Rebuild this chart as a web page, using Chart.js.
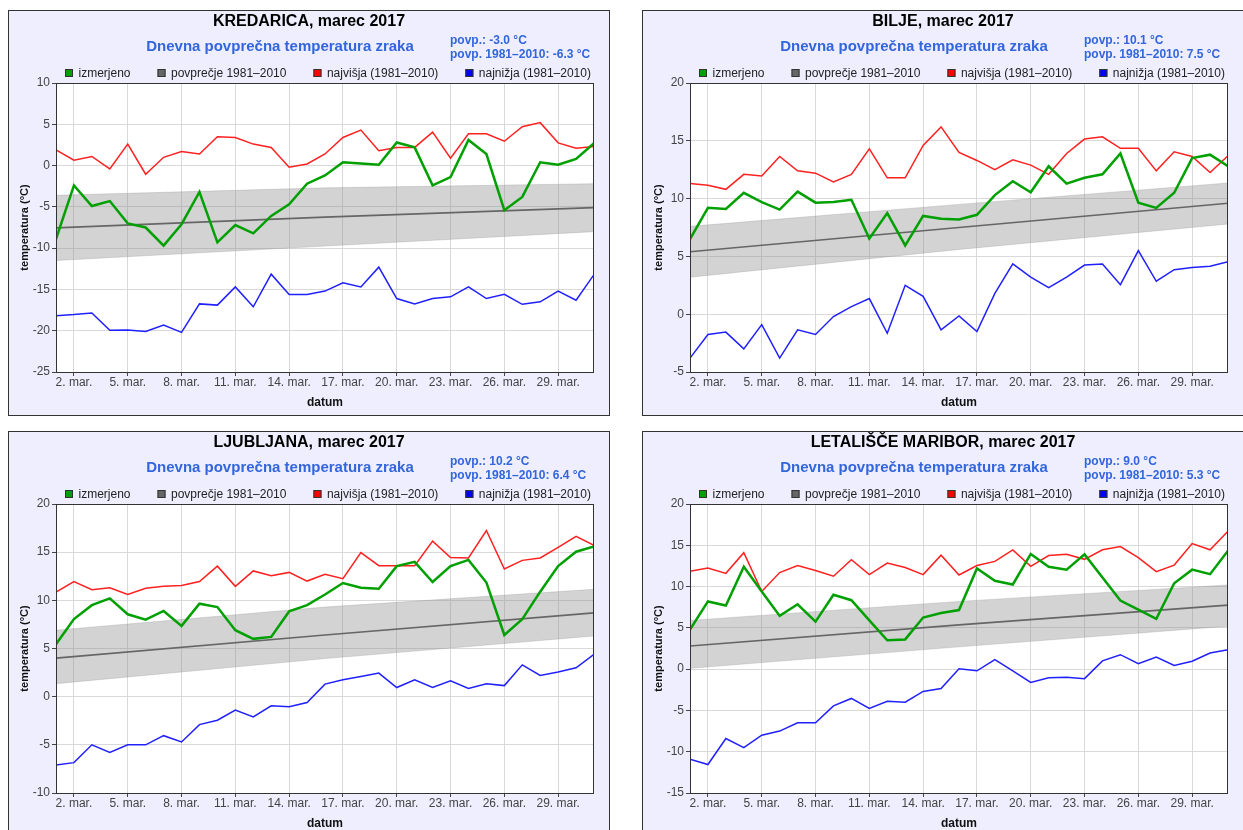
<!DOCTYPE html>
<html>
<head>
<meta charset="utf-8">
<script src="https://cdn.jsdelivr.net/npm/chart.js@4.4.1/dist/chart.umd.min.js"></script>
<style>
  body { margin: 0; background: #fff; }
  .panel { position: absolute; width: 600px; height: 404px; border: 1px solid #333; background: #eeeeff; }
  canvas { display: block; }
</style>
</head>
<body>
<div class="panel" style="left:8px;top:10px"><canvas id="kredarica" width="600" height="404"></canvas></div>
<div class="panel" style="left:642px;top:10px"><canvas id="bilje" width="600" height="404"></canvas></div>
<div class="panel" style="left:8px;top:431px"><canvas id="ljubljana" width="600" height="404"></canvas></div>
<div class="panel" style="left:642px;top:431px"><canvas id="maribor" width="600" height="404"></canvas></div>
<script>
// dnevi v marcu
const days = [1, 2, 3, 4, 5, 6, 7, 8, 9, 10, 11, 12, 13, 14, 15, 16, 17, 18, 19, 20, 21, 22, 23, 24, 25, 26, 27, 28, 29, 30, 31];
const climDays = [1, 16, 31];
const xTickDays = [2, 5, 8, 11, 14, 17, 20, 23, 26, 29];
const legendLabels = ['izmerjeno', 'povprečje 1981–2010', 'najvišja (1981–2010)', 'najnižja (1981–2010)'];

// KREDARICA
const kredaricaMeasured = [-8.9, -2.4, -4.9, -4.3, -7.0, -7.5, -9.7, -7.1, -3.2, -9.3, -7.2, -8.2, -6.1, -4.7, -2.2, -1.2, 0.4, 0.25, 0.1, 2.8, 2.2, -2.4, -1.4, 3.1, 1.4, -5.4, -3.8, 0.4, 0.1, 0.8, 2.7];
const kredaricaMax = [1.9, 0.65, 1.1, -0.4, 2.6, -1.05, 1.0, 1.7, 1.4, 3.5, 3.4, 2.6, 2.2, -0.2, 0.2, 1.4, 3.4, 4.3, 1.8, 2.2, 2.2, 4.05, 0.9, 3.85, 3.85, 2.95, 4.7, 5.2, 2.75, 2.1, 2.3];
const kredaricaMin = [-18.2, -18.05, -17.85, -19.95, -19.9, -20.1, -19.3, -20.2, -16.75, -16.9, -14.7, -17.1, -13.15, -15.6, -15.6, -15.2, -14.2, -14.7, -12.3, -16.1, -16.75, -16.1, -15.9, -14.7, -16.1, -15.6, -16.8, -16.5, -15.2, -16.3, -13.2];
const kredaricaAvg = [-7.55, -6.25, -5.1];
const kredaricaBandHigh = [-3.6, -2.7, -2.2];
const kredaricaBandLow = [-11.5, -9.75, -8.0];

// BILJE
const biljeMeasured = [6.5, 9.2, 9.1, 10.5, 9.7, 9.05, 10.6, 9.65, 9.7, 9.9, 6.55, 8.75, 5.95, 8.5, 8.25, 8.2, 8.6, 10.3, 11.5, 10.55, 12.8, 11.3, 11.8, 12.1, 13.9, 9.65, 9.2, 10.5, 13.5, 13.8, 12.8];
const biljeMax = [11.3, 11.15, 10.8, 12.1, 11.95, 13.65, 12.4, 12.2, 11.45, 12.1, 14.3, 11.8, 11.8, 14.6, 16.2, 14.0, 13.3, 12.5, 13.35, 12.9, 12.1, 13.9, 15.15, 15.35, 14.35, 14.35, 12.4, 14.05, 13.65, 12.25, 13.7];
const biljeMin = [-3.8, -1.75, -1.55, -3.0, -0.9, -3.8, -1.35, -1.75, -0.2, 0.65, 1.35, -1.65, 2.5, 1.55, -1.35, -0.15, -1.5, 1.8, 4.35, 3.2, 2.3, 3.2, 4.25, 4.35, 2.55, 5.5, 2.85, 3.85, 4.05, 4.15, 4.55];
const biljeAvg = [5.4, 7.5, 9.6];
const biljeBandHigh = [7.6, 9.5, 11.35];
const biljeBandLow = [3.2, 5.6, 7.8];

// LJUBLJANA
const ljubljanaMeasured = [5.45, 8.05, 9.5, 10.2, 8.55, 8.0, 8.9, 7.35, 9.65, 9.3, 6.9, 6.0, 6.2, 8.85, 9.5, 10.6, 11.8, 11.3, 11.2, 13.55, 14.0, 11.9, 13.55, 14.2, 11.85, 6.4, 8.05, 10.9, 13.55, 15.05, 15.6];
const ljubljanaMax = [10.85, 11.95, 11.1, 11.3, 10.6, 11.25, 11.45, 11.55, 11.95, 13.55, 11.45, 13.05, 12.55, 12.9, 12.0, 12.7, 12.25, 14.95, 13.6, 13.6, 13.6, 16.15, 14.45, 14.4, 17.25, 13.25, 14.15, 14.4, 15.5, 16.65, 15.7];
const ljubljanaMin = [-7.1, -6.85, -5.0, -5.8, -5.0, -5.0, -4.05, -4.7, -2.9, -2.45, -1.4, -2.1, -0.95, -1.05, -0.6, 1.3, 1.75, 2.1, 2.45, 0.95, 1.75, 0.95, 1.65, 0.85, 1.35, 1.15, 3.3, 2.2, 2.55, 3.0, 4.4];
const ljubljanaAvg = [4.0, 6.4, 8.7];
const ljubljanaBandHigh = [6.9, 9.3, 11.15];
const ljubljanaBandLow = [1.35, 3.95, 6.3];

// LETALIŠČE MARIBOR
const mariborMeasured = [4.8, 8.2, 7.7, 12.4, 9.4, 6.45, 7.85, 5.75, 9.0, 8.35, 5.9, 3.5, 3.6, 6.25, 6.8, 7.15, 12.2, 10.7, 10.25, 13.95, 12.4, 12.05, 13.9, 11.1, 8.3, 7.2, 6.1, 10.4, 12.05, 11.5, 14.35];
const mariborMax = [11.85, 12.25, 11.6, 14.1, 9.4, 11.7, 12.55, 11.95, 11.25, 13.25, 11.45, 12.85, 12.3, 11.45, 13.8, 11.4, 12.55, 13.05, 14.45, 12.45, 13.75, 13.9, 13.3, 14.45, 14.85, 13.5, 11.8, 12.6, 15.2, 14.45, 16.7];
const mariborMin = [-10.9, -11.55, -8.4, -9.5, -8.0, -7.5, -6.5, -6.5, -4.45, -3.55, -4.75, -3.9, -4.0, -2.7, -2.35, 0.05, -0.2, 1.15, -0.2, -1.6, -1.05, -0.98, -1.15, 1.0, 1.75, 0.65, 1.45, 0.45, 0.95, 1.95, 2.35];
const mariborAvg = [2.8, 5.35, 7.75];
const mariborBandHigh = [5.9, 8.2, 10.2];
const mariborBandLow = [0.1, 2.7, 5.2];

const FONT = '"Liberation Sans", Arial, sans-serif';
const BLUE_TXT = '#3366dd';
Chart.defaults.font.family = FONT;

// bela podlaga grafa + okvir
const framePlugin = {
    id: 'frame',
    beforeDraw(chart) {
        const a = chart.chartArea, ctx = chart.ctx;
        ctx.save();
        ctx.fillStyle = '#fff';
        ctx.fillRect(a.left, a.top, a.right - a.left, a.bottom - a.top);
        ctx.restore();
    },
    afterDatasetsDraw(chart) {
        const a = chart.chartArea, ctx = chart.ctx;
        ctx.save();
        ctx.strokeStyle = '#333';
        ctx.lineWidth = 1;
        ctx.strokeRect(a.left + 0.5, a.top + 0.5, a.right - a.left - 1, a.bottom - a.top);
        ctx.restore();
    }
};

// naslov, podnaslov, povprečja in legenda
const headerPlugin = {
    id: 'header',
    afterDraw(chart, args, opts) {
        const ctx = chart.ctx;
        ctx.save();
        ctx.textBaseline = 'middle';
        ctx.textAlign = 'center';
        ctx.fillStyle = '#000';
        ctx.font = 'bold 16px ' + FONT;
        ctx.fillText(opts.title, 300, 11);
        ctx.fillStyle = BLUE_TXT;
        ctx.font = 'bold 15px ' + FONT;
        ctx.fillText('Dnevna povprečna temperatura zraka', 271, 36);
        ctx.textAlign = 'left';
        ctx.font = 'bold 12px ' + FONT;
        ctx.fillText(opts.stats[0], 441, 30);
        ctx.fillText(opts.stats[1], 441, 44);

        ctx.font = '12px ' + FONT;
        let x = 56;
        legendLabels.forEach(lbl => {
            const ds = chart.data.datasets.find(d => d.label === lbl);
            ctx.fillStyle = ds.legendColor;
            ctx.fillRect(x, 58, 8, 8);
            ctx.strokeStyle = '#333';
            ctx.lineWidth = 1;
            ctx.strokeRect(x + 0.5, 58.5, 7, 7);
            ctx.fillStyle = '#222';
            ctx.fillText(lbl, x + 13.5, 62.5);
            x += 13.5 + ctx.measureText(lbl).width + 27;
        });
        ctx.restore();
    }
};

function pts(xs, ys) {
    return xs.map((x, i) => ({ x: x, y: ys[i] }));
}

function makeChart(id, title, stats, yMin, yMax, measured, maxs, mins, avg, bandHigh, bandLow) {
    new Chart(document.getElementById(id), {
        type: 'line',
        data: {
            datasets: [
                { label: 'izmerjeno', data: pts(days, measured), borderColor: '#00a000', legendColor: '#00a000', borderWidth: 2.5 },
                { label: 'najvišja (1981–2010)', data: pts(days, maxs), borderColor: '#ff2020', legendColor: '#ff0000', borderWidth: 1.5 },
                { label: 'najnižja (1981–2010)', data: pts(days, mins), borderColor: '#2020ff', legendColor: '#0000ff', borderWidth: 1.5 },
                { label: 'povprečje 1981–2010', data: pts(climDays, avg), borderColor: '#666666', legendColor: '#666666', borderWidth: 1.7 },
                { label: 'pas zgoraj', data: pts(climDays, bandHigh), borderColor: 'rgba(150,150,150,0.3)', borderWidth: 1, backgroundColor: 'rgba(140,140,140,0.38)', fill: '+1' },
                { label: 'pas spodaj', data: pts(climDays, bandLow), borderColor: 'rgba(150,150,150,0.3)', borderWidth: 1, fill: false }
            ]
        },
        options: {
            responsive: false,
            animation: false,
            layout: { padding: { top: 72, right: 15, left: 0, bottom: 0 } },
            elements: { point: { radius: 0 }, line: { tension: 0 } },
            plugins: {
                legend: { display: false },
                tooltip: { enabled: false },
                header: { title: title, stats: stats }
            },
            scales: {
                x: {
                    type: 'linear',
                    min: 1,
                    max: 31,
                    afterBuildTicks: s => { s.ticks = xTickDays.map(v => ({ value: v })); },
                    afterFit: s => { s.height = 43; },
                    ticks: { callback: v => v + '. mar.', color: '#444', font: { size: 12 }, padding: -1, maxRotation: 0, autoSkip: false },
                    grid: { color: '#d9d9d9', tickColor: '#444', tickLength: 4 },
                    border: { display: false },
                    title: { display: true, text: 'datum', color: '#111', font: { size: 12, weight: 'bold' }, padding: { top: 0, bottom: 5 } }
                },
                y: {
                    min: yMin,
                    max: yMax,
                    afterFit: s => { s.width = 47; },
                    ticks: { stepSize: 5, color: '#444', font: { size: 12 }, padding: 2 },
                    grid: { color: '#d9d9d9', tickColor: '#444', tickLength: 4 },
                    border: { display: false },
                    title: { display: true, text: 'temperatura (°C)', color: '#111', font: { size: 11, weight: 'bold' }, padding: { top: 9.4, bottom: 0 } }
                }
            }
        },
        plugins: [framePlugin, headerPlugin]
    });
}

makeChart('kredarica', 'KREDARICA, marec 2017', ['povp.: -3.0 °C', 'povp. 1981–2010: -6.3 °C'], -25, 10,
    kredaricaMeasured, kredaricaMax, kredaricaMin, kredaricaAvg, kredaricaBandHigh, kredaricaBandLow);
makeChart('bilje', 'BILJE, marec 2017', ['povp.: 10.1 °C', 'povp. 1981–2010: 7.5 °C'], -5, 20,
    biljeMeasured, biljeMax, biljeMin, biljeAvg, biljeBandHigh, biljeBandLow);
makeChart('ljubljana', 'LJUBLJANA, marec 2017', ['povp.: 10.2 °C', 'povp. 1981–2010: 6.4 °C'], -10, 20,
    ljubljanaMeasured, ljubljanaMax, ljubljanaMin, ljubljanaAvg, ljubljanaBandHigh, ljubljanaBandLow);
makeChart('maribor', 'LETALIŠČE MARIBOR, marec 2017', ['povp.: 9.0 °C', 'povp. 1981–2010: 5.3 °C'], -15, 20,
    mariborMeasured, mariborMax, mariborMin, mariborAvg, mariborBandHigh, mariborBandLow);
</script>
</body>
</html>
